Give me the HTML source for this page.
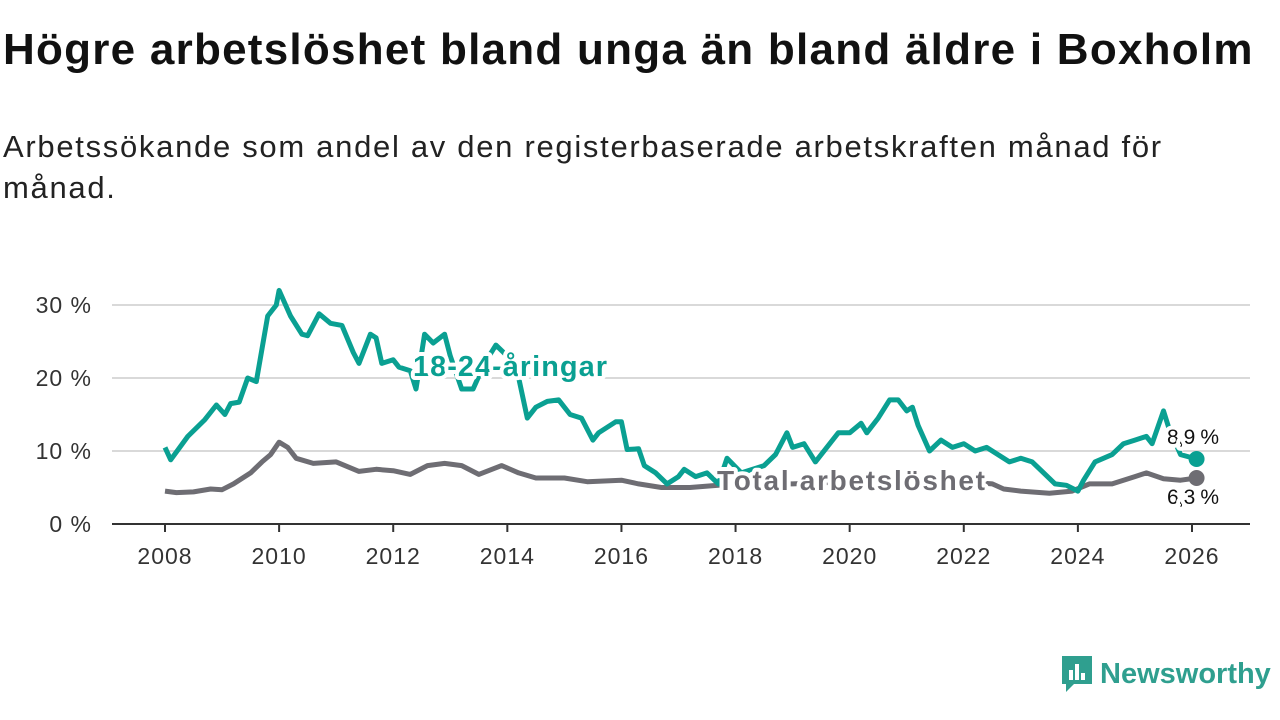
<!DOCTYPE html>
<html><head><meta charset="utf-8"><style>
body{margin:0;width:1280px;height:720px;background:#fff;font-family:"Liberation Sans",sans-serif;overflow:hidden;position:relative}
h1{position:absolute;left:3px;top:25px;margin:0;font-size:44px;font-weight:bold;color:#111;letter-spacing:1.25px;white-space:nowrap}
p.sub{position:absolute;left:3px;top:126px;margin:0;font-size:31px;line-height:41px;color:#222;width:1200px;letter-spacing:1.7px}
svg{position:absolute;left:0;top:0}
.logo{position:absolute;left:1060px;top:654px;font-size:29px;color:#2f9f8f;font-weight:bold;display:flex;align-items:center}
</style></head><body>
<h1>Högre arbetslöshet bland unga än bland äldre i Boxholm</h1>
<p class="sub">Arbetssökande som andel av den registerbaserade arbetskraften månad för månad.</p>
<svg id="chart" width="1280" height="720"></svg>
<div class="logo">
<svg width="34" height="40" style="position:static;margin-right:6px" viewBox="0 0 34 40"><path d="M2 2h30v28H14l-8 8v-8H2z" fill="#2f9f8f"/><rect x="9" y="16" width="4" height="10" fill="#fff"/><rect x="15" y="10" width="4" height="16" fill="#fff"/><rect x="21" y="19" width="4" height="7" fill="#fff"/></svg>Newsworthy</div>
<script>
const yTicks=[0,10,20,30];
const yTickLabels=["0 %","10 %","20 %","30 %"];
const xTicks=[2008,2010,2012,2014,2016,2018,2020,2022,2024,2026];
const youthDates=[2008.0,2008.1,2008.4,2008.7,2008.9,2009.05,2009.15,2009.3,2009.45,2009.6,2009.7,2009.8,2009.95,2010.0,2010.2,2010.4,2010.5,2010.7,2010.9,2011.1,2011.3,2011.4,2011.6,2011.7,2011.8,2012.0,2012.1,2012.3,2012.4,2012.55,2012.7,2012.9,2013.0,2013.2,2013.4,2013.6,2013.8,2014.0,2014.2,2014.35,2014.5,2014.7,2014.9,2015.1,2015.3,2015.5,2015.6,2015.9,2016.0,2016.1,2016.3,2016.4,2016.6,2016.8,2017.0,2017.1,2017.3,2017.5,2017.7,2017.85,2018.1,2018.5,2018.7,2018.9,2019.0,2019.2,2019.4,2019.6,2019.8,2020.0,2020.2,2020.3,2020.5,2020.7,2020.85,2021.0,2021.1,2021.2,2021.4,2021.6,2021.8,2022.0,2022.2,2022.4,2022.6,2022.8,2023.0,2023.2,2023.4,2023.6,2023.8,2024.0,2024.1,2024.3,2024.6,2024.8,2025.0,2025.2,2025.3,2025.5,2025.6,2025.8,2026.08];
const youthValues=[10.5,8.8,12,14.3,16.3,15,16.5,16.7,20,19.5,24,28.5,30,32,28.5,26,25.8,28.8,27.5,27.2,23.5,22,26,25.5,22,22.5,21.5,21,18.5,26,24.8,26,23,18.5,18.5,22,24.5,23,20,14.5,16,16.8,17,15,14.5,11.5,12.5,14,14,10.2,10.3,8,7,5.5,6.5,7.5,6.5,7,5.5,9,7,8,9.5,12.5,10.5,11,8.5,10.5,12.5,12.5,13.8,12.5,14.5,17,17,15.5,16,13.5,10,11.5,10.5,11,10,10.5,9.5,8.5,9,8.5,7,5.5,5.3,4.5,6,8.5,9.5,11,11.5,12,11,15.5,13,9.5,8.9];
const totalDates=[2008.0,2008.2,2008.5,2008.8,2009.0,2009.2,2009.5,2009.7,2009.85,2010.0,2010.15,2010.3,2010.6,2011.0,2011.4,2011.7,2012.0,2012.3,2012.6,2012.9,2013.2,2013.5,2013.9,2014.2,2014.5,2015.0,2015.4,2016.0,2016.3,2016.7,2017.2,2017.7,2018.2,2019.0,2020.0,2021.0,2022.0,2022.5,2022.7,2023.0,2023.5,2023.9,2024.2,2024.6,2025.0,2025.2,2025.5,2025.8,2026.08];
const totalValues=[4.5,4.3,4.4,4.8,4.7,5.5,7,8.5,9.5,11.2,10.5,9,8.3,8.5,7.2,7.5,7.3,6.8,8,8.3,8,6.8,8,7,6.3,6.3,5.8,6,5.5,5,5,5.3,5.5,5.5,5.8,5.7,5.8,5.5,4.8,4.5,4.2,4.5,5.5,5.5,6.5,7,6.2,6,6.3];
const NS="http://www.w3.org/2000/svg";
const svg=document.getElementById('chart');
const X=d=>165+(d-2008)*(1192-165)/18;
const Y=v=>524-v*7.3;
function el(t,a,p){const e=document.createElementNS(NS,t);for(const k in a)e.setAttribute(k,a[k]);(p||svg).appendChild(e);return e;}
yTicks.forEach((t,i)=>{
 if(t>0){const g=el('line',{x1:112,x2:1250,y1:Y(t),y2:Y(t),stroke:'#d9d9d9','stroke-width':2});
 
 }
 const l=el('text',{x:92,y:Y(t)+8,'text-anchor':'end','font-size':23,'letter-spacing':1,fill:'#333'});l.textContent=yTickLabels[i];
 
 
});
const ax=el('line',{x1:112,x2:1250,y1:524,y2:524,stroke:'#333','stroke-width':2});


xTicks.forEach(t=>{
 el('line',{x1:X(t),x2:X(t),y1:524,y2:532,stroke:'#333','stroke-width':2});
 const l=el('text',{x:X(t),y:564,'text-anchor':'middle','font-size':23,'letter-spacing':1,fill:'#333'});l.textContent=t;
 
 
});
function line(ds,vs,c,name){
 const p=el('path',{d:ds.map((d,i)=>(i?'L':'M')+X(d).toFixed(1)+','+Y(vs[i]).toFixed(1)).join(''),fill:'none',stroke:c,'stroke-width':5,'stroke-linejoin':'round'});
 
 
 const n=ds.length-1;
 const dot=el('circle',{cx:X(ds[n]),cy:Y(vs[n]),r:8,fill:c});
 
 
}
line(totalDates,totalValues,'#6e6d73','total-line');
line(youthDates,youthValues,'#0aa092','youth-line');
function lab(x,y,txt,c,fs,w,len,name){
 const a={x:x,y:y,'font-size':fs,'font-weight':w,fill:c,stroke:'#fff','stroke-width':8,'paint-order':'stroke','stroke-linejoin':'round'};
 if(len){a.textLength=len;a.lengthAdjust='spacing';}
 const t=el('text',a);
 t.textContent=txt;
 
 
}
lab(413,376,'18-24-åringar','#0aa092',29,'bold',194,'youth-series-label');
lab(717,490,'Total arbetslöshet','#6e6d73',28,'bold',268,'total-series-label');
lab(1167,444,'8,9 %','#111',21,'normal',52,'youth-end-value');
lab(1167,504,'6,3 %','#111',21,'normal',52,'total-end-value');
</script>
</body></html>
